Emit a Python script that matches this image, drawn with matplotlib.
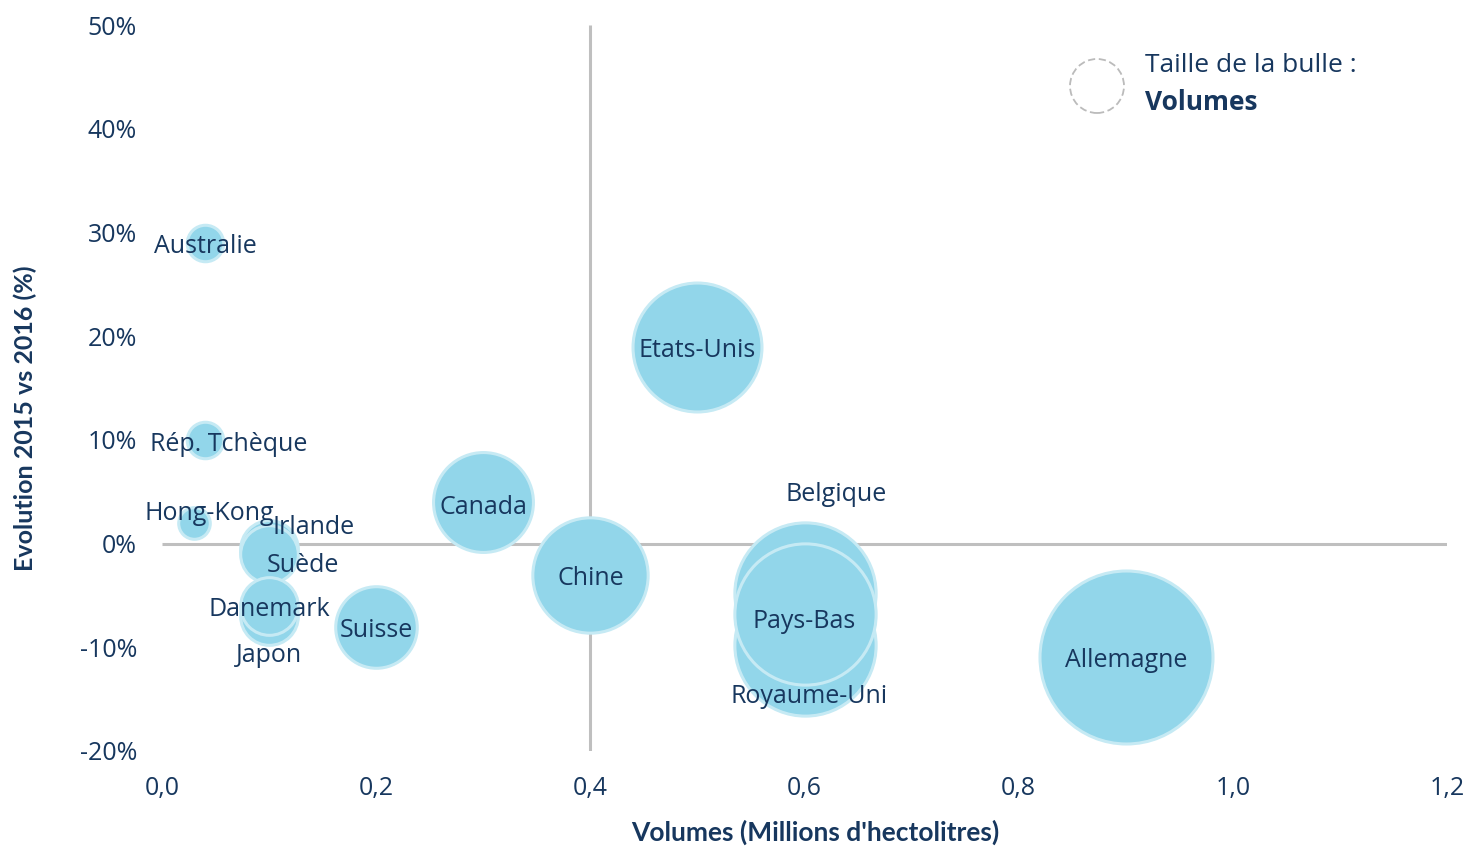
import numpy as np
import matplotlib.pyplot as plt
from matplotlib.patches import Circle
from matplotlib.ticker import FuncFormatter

# data (bubble size = volume, same as x)
pays = ["Allemagne", "Belgique", "Royaume-Uni", "Pays-Bas", "Etats-Unis",
        "Chine", "Canada", "Suisse", "Irlande", "Suède", "Japon", "Danemark",
        "Australie", "Rép. Tchèque", "Hong-Kong"]
volumes = [0.9, 0.6, 0.6, 0.6, 0.5, 0.4, 0.3, 0.2, 0.1, 0.1, 0.1, 0.1,
           0.04, 0.04, 0.03]
evolution = [-10.9, -4.8, -9.8, -6.8, 19.0, -3.0, 4.0, -8.0, -0.5, -1.0,
             -7.0, -6.0, 29.0, 10.0, 2.0]
# label offsets in points (Excel data-label placement)
label_dx = [0, 23, 3, 0, 0, 0, 0, 0, 32, 24, 0, 0, 0, 17, 11]
label_dy = [-3, 71, -37, -5, -3, -3, -4, -3, 15, -8, -28, -3, -3, -3, 7]

xticks = [0.0, 0.2, 0.4, 0.6, 0.8, 1.0, 1.2]
yticks = [-20, -10, 0, 10, 20, 30, 40, 50]

navy = "#17375E"
fill = "#92D6EA"
edge = "#C6EAF4"
grey = "#BFBFBF"

fig = plt.figure(figsize=(14.68, 8.46), dpi=100)
ax = fig.add_axes([0.1104, 0.1123, 0.8753, 0.8581])
ax.set_xlim(0, 1.2)
ax.set_ylim(-20, 50)

# quadrant lines
ax.plot([0, 1.2], [0, 0], color=grey, lw=2.2, zorder=1, solid_capstyle="butt")
ax.plot([0.4, 0.4], [-20, 50], color=grey, lw=2.2, zorder=1, solid_capstyle="butt")

# bubble area proportional to volume; Allemagne radius ~87 px
r_px = 86.5 * np.sqrt(np.array(volumes) / max(volumes))
sizes = (2 * r_px * 72 / 100) ** 2
for i in range(len(pays)):
    ax.scatter(volumes[i], evolution[i], s=sizes[i], color=fill,
               edgecolor=edge, linewidth=2.2, zorder=2 + i)

for i, name in enumerate(pays):
    ax.annotate(name, (volumes[i], evolution[i]),
                xytext=(label_dx[i], label_dy[i]), textcoords="offset points",
                ha="center", va="center", fontsize=18, color=navy,
                family="Open Sans", zorder=30)

ax.set_xticks(xticks)
ax.set_yticks(yticks)
ax.xaxis.set_major_formatter(FuncFormatter(lambda v, p: f"{v:.1f}".replace(".", ",")))
ax.yaxis.set_major_formatter(FuncFormatter(lambda v, p: f"{v:.0f}%"))
ax.tick_params(length=0, labelsize=18, labelcolor=navy)
for lab in ax.get_xticklabels() + ax.get_yticklabels():
    lab.set_family("Open Sans")
ax.tick_params(axis="x", pad=18)
ax.tick_params(axis="y", pad=18)
for s in ax.spines.values():
    s.set_visible(False)

ax.set_xlabel("Volumes (Millions d'hectolitres)", fontsize=19, color=navy,
              fontweight="bold", family="Lato", va="center")
ax.set_ylabel("Evolution 2015 vs 2016 (%)", fontsize=18, color=navy,
              fontweight="bold", family="Lato", va="center")
ax.xaxis.set_label_coords(0.508, -0.1116)
ax.yaxis.set_label_coords(-0.1066, 0.4587)

# legend for bubble size
fig.patches.append(Circle((1097, 846 - 86), 27, transform=None, fill=False,
                          ec="#BBBBBB", lw=1.3, ls=(0, (4, 2))))
fig.text(1145 / 1468, 1 - 65 / 846, "Taille de la bulle :", fontsize=19,
         color=navy, family="Open Sans", va="center")
fig.text(1145 / 1468, 1 - 102 / 846, "Volumes", fontsize=19, color=navy,
         family="Open Sans", fontweight="bold", va="center")

fig.savefig("out.png", dpi=100)
